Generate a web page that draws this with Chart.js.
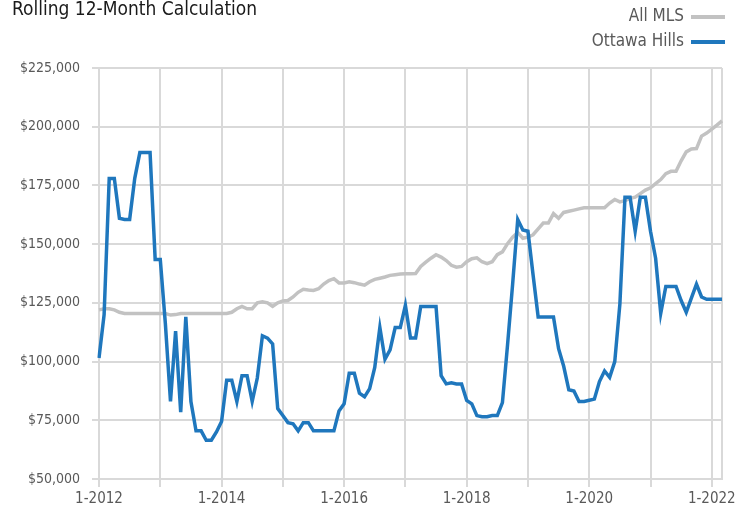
<!DOCTYPE html>
<html>
<head>
<meta charset="utf-8">
<script src="https://cdn.jsdelivr.net/npm/chart.js@4"></script>
<style>
  html, body { margin: 0; padding: 0; background: #fff; }
  #wrap { width: 748px; height: 512px; }
</style>
</head>
<body>
<div id="wrap"><canvas id="chart" width="748" height="512"></canvas></div>
<script>
// --- Data (monthly Jan 2012 .. Mar 2022) ---
const chartTitle = 'Rolling 12-Month Calculation';
const seriesNames = ['All MLS', 'Ottawa Hills'];
const firstYear = 2012;
const monthCount = 123;

const allMls = [
  122000, 122500, 122500, 122000, 121000, 120500, 120500, 120500, 120500, 120500, 120500, 120500,
  120500, 120500, 119800, 120000, 120500, 120500, 120500, 120500, 120500, 120500, 120500, 120500,
  120500, 120500, 121000, 122500, 123500, 122500, 122500, 125000, 125500, 125000, 123500, 125000,
  125800, 126000, 127500, 129500, 130800, 130500, 130300, 131000, 133000, 134500, 135300, 133500,
  133500, 134000, 133600, 133000, 132500, 134000, 135000, 135500, 136000, 136700, 137000, 137300,
  137400, 137400, 137500, 140500, 142300, 144000, 145500, 144500, 143000, 141000, 140200, 140500,
  142500, 143800, 144200, 142500, 141700, 142500, 145500, 146700, 150200, 153000, 155000, 152500,
  153000, 154000, 156500, 159000, 159000, 163000, 161000, 163500, 164000, 164500, 165000, 165500,
  165500, 165500, 165500, 165500, 167500, 169000, 168000, 168500, 169500, 170000, 171500, 173000,
  174000, 175800, 177500, 180000, 181000, 181000, 185500, 189300, 190500, 190700, 196000, 197300,
  199000, 200700, 202500
];

const ottawaHills = [
  101500, 120000, 178000, 178000, 161000, 160500, 160500, 178000, 189000, 189000, 189000, 143500,
  143500, 116000, 83000, 113000, 78500, 119000, 83000, 70500, 70500, 66500, 66500, 70000,
  74500, 92000, 92000, 83000, 94000, 94000, 83000, 93000, 111000, 110000, 107500, 80000,
  77000, 74000, 73500, 70500, 74000, 74000, 70500, 70500, 70500, 70500, 70500, 79000,
  82000, 95000, 95000, 86500, 85000, 88500, 97500, 114500, 101000, 105000, 114500, 114500,
  124000, 110000, 110000, 123500, 123500, 123500, 123500, 94000, 90500, 91000, 90500, 90500,
  83500, 82000, 77000, 76500, 76500, 77000, 77000, 82500, 107000, 133000, 160500, 156000,
  155500, 137000, 119000, 119000, 119000, 119000, 105500, 98000, 88000, 87500, 83000, 83000,
  83500, 84000, 91500, 96000, 93300, 100000, 124500, 170000, 170000, 155500, 170000, 170000,
  155500, 144000, 120500, 132000, 132000, 132000, 126000, 121000, 127000, 133000, 127500, 126500,
  126500, 126500, 126500
];

const yMin = 50000;
const yMax = 225000;
const yStep = 25000;

// month labels like "1-2012"
const months = [];
for (let i = 0; i < monthCount; i++) {
  months.push((i % 12 + 1) + '-' + (firstYear + Math.floor(i / 12)));
}

const FONT = "'DejaVu Sans Condensed', 'Liberation Sans', sans-serif";
const GRID = '#d9d9d9';
const TEXT = '#595959';

// title + legend drawn at the top, legend sits on the right with the swatch after the text
const headerPlugin = {
  id: 'header',
  afterDraw(chart) {
    const ctx = chart.ctx;
    ctx.save();
    ctx.fillStyle = '#1a1a1a';
    ctx.font = '19px ' + FONT;
    ctx.textAlign = 'left';
    ctx.textBaseline = 'middle';
    ctx.fillText(chartTitle, 12, 10);

    ctx.font = '17px ' + FONT;
    ctx.textAlign = 'right';
    chart.data.datasets.forEach((ds, i) => {
      const y = 17 + i * 25;
      ctx.fillStyle = TEXT;
      ctx.fillText(ds.label, 684, y);
      ctx.strokeStyle = ds.borderColor;
      ctx.lineWidth = 4;
      ctx.beginPath();
      ctx.moveTo(691, y);
      ctx.lineTo(725, y);
      ctx.stroke();
    });
    ctx.restore();
  }
};

const isYear = (i) => i % 12 === 0;

new Chart(document.getElementById('chart'), {
  type: 'line',
  data: {
    labels: months,
    datasets: [
      {
        label: seriesNames[0],
        data: allMls,
        borderColor: '#c2c2c2',
        borderWidth: 3.5,
        pointRadius: 0,
        tension: 0,
        order: 1
      },
      {
        label: seriesNames[1],
        data: ottawaHills,
        borderColor: '#1f77bd',
        borderWidth: 3.5,
        pointRadius: 0,
        tension: 0,
        order: 0
      }
    ]
  },
  options: {
    responsive: false,
    animation: false,
    layout: { padding: { top: 68, right: 26, left: 0, bottom: 0 } },
    plugins: {
      legend: { display: false },
      tooltip: { enabled: false }
    },
    scales: {
      x: {
        type: 'category',
        afterFit: (scale) => { scale.height = 33; },
        grid: {
          color: (c) => (isYear(c.index) || c.index === monthCount - 1) ? GRID : 'rgba(0,0,0,0)',
          tickColor: (c) => isYear(c.index) ? GRID : 'rgba(0,0,0,0)',
          lineWidth: 2,
          tickLength: 8
        },
        border: { color: GRID, width: 2 },
        ticks: {
          autoSkip: false,
          maxRotation: 0,
          minRotation: 0,
          padding: 3,
          color: TEXT,
          font: { family: FONT, size: 15 },
          callback: (v, i) => (i % 24 === 0) ? months[i] : ''
        }
      },
      y: {
        min: yMin,
        max: yMax,
        afterFit: (scale) => { scale.width = 99; },
        grid: { color: GRID, lineWidth: 2, tickLength: 7 },
        border: { color: GRID, width: 2 },
        ticks: {
          stepSize: yStep,
          padding: 12,
          color: TEXT,
          font: { family: FONT, size: 14 },
          callback: (v) => '$' + v.toLocaleString('en-US')
        }
      }
    }
  },
  plugins: [headerPlugin]
});
</script>
</body>
</html>
